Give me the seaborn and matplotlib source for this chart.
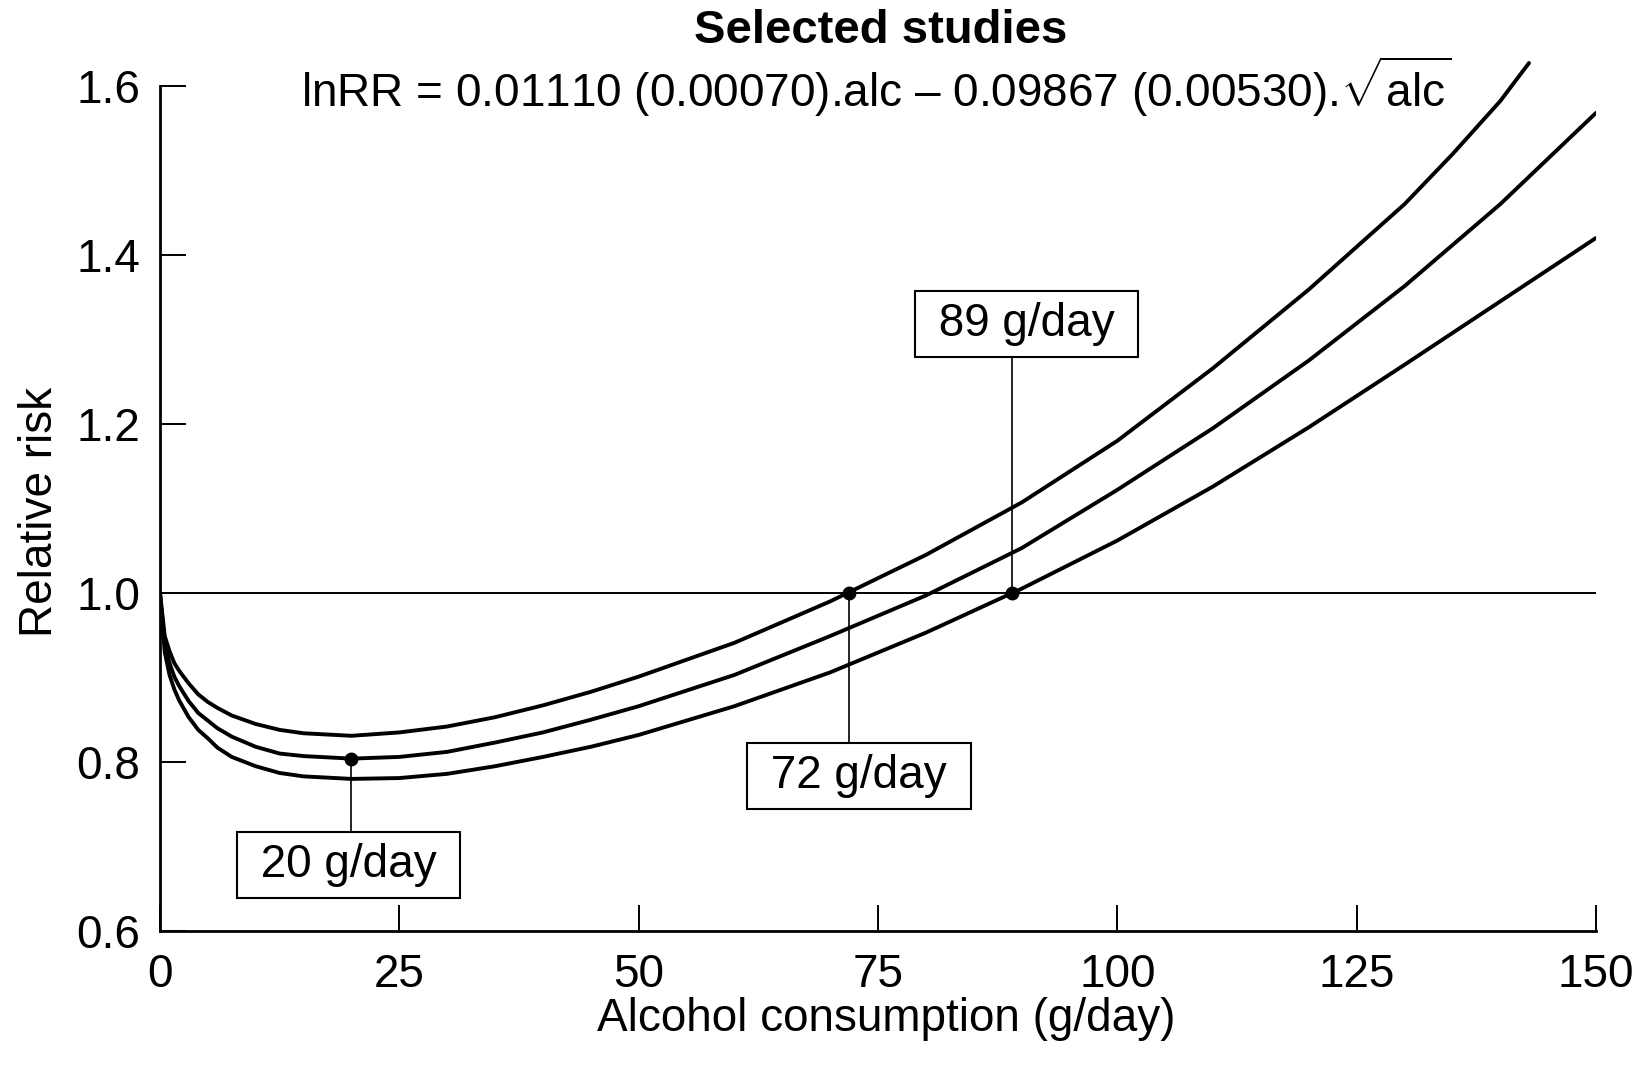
import matplotlib
matplotlib.use('Agg')
import matplotlib.pyplot as plt
import seaborn as sns


alc = [0, 0.5, 1, 1.5, 2, 3, 4, 5, 6, 7.5, 10, 12.5, 15, 20, 25, 30, 35, 40,
       45, 50, 60, 70, 80, 90, 100, 110, 120, 130, 140, 150]

# Relative risk: fitted curve and the lower confidence limit
rr_mid = [1.0, 0.94, 0.917, 0.901, 0.89, 0.872, 0.858, 0.849, 0.840, 0.830,
          0.818, 0.810, 0.807, 0.804, 0.806, 0.812, 0.823, 0.835, 0.850,
          0.866, 0.903, 0.949, 0.997, 1.053, 1.122, 1.195, 1.275, 1.363,
          1.46, 1.568]
rr_lower = [1.0, 0.93, 0.903, 0.886, 0.873, 0.853, 0.838, 0.828, 0.817,
            0.806, 0.795, 0.787, 0.783, 0.780, 0.781, 0.786, 0.795, 0.806,
            0.818, 0.832, 0.866, 0.906, 0.953, 1.005, 1.062, 1.126, 1.196,
            1.27, 1.345, 1.42]

# upper limit leaves the top of the plot at about 143 g/day
alc_upper = [0, 0.5, 1, 1.5, 2, 3, 4, 5, 6, 7.5, 10, 12.5, 15, 20, 25, 30,
             35, 40, 45, 50, 60, 70, 80, 90, 100, 110, 120, 130, 135, 140, 143]
rr_upper = [1.0, 0.949, 0.931, 0.917, 0.908, 0.893, 0.880, 0.871, 0.864,
            0.855, 0.845, 0.838, 0.834, 0.831, 0.835, 0.842, 0.853, 0.867,
            0.883, 0.901, 0.941, 0.990, 1.045, 1.107, 1.180, 1.266, 1.359,
            1.460, 1.519, 1.582, 1.627]

# marked intersections and their labels
mark_x = [20, 72, 89]
mark_y = [0.804, 1.0, 1.0]
mark_label_x = [19.7, 73, 90.5]
mark_label_y = [0.678, 0.783, 1.318]
mark_labels = ['20 g/day', '72 g/day', '89 g/day']

x_ticks = [0, 25, 50, 75, 100, 125, 150]
y_ticks = [0.6, 0.8, 1.0, 1.2, 1.4, 1.6]

sns.set_theme(style='white')
plt.rcParams['font.family'] = ['Liberation Sans', 'DejaVu Sans']
plt.rcParams['mathtext.fontset'] = 'custom'
plt.rcParams['mathtext.rm'] = 'Liberation Sans'
plt.rcParams['mathtext.it'] = 'Liberation Sans'
plt.rcParams['text.color'] = 'black'
plt.rcParams['axes.labelcolor'] = 'black'

fig = plt.figure(figsize=(16.44, 10.66), dpi=100)
ax = fig.add_axes([0.0973, 0.1266, 0.8735, 0.8246])

# reference line at RR = 1
ax.hlines(1.0, 0, 150, color='black', lw=1.4, zorder=2)

sns.lineplot(x=alc_upper, y=rr_upper, ax=ax, color='black', lw=2.8, zorder=3)
sns.lineplot(x=alc, y=rr_mid, ax=ax, color='black', lw=2.8, zorder=3)
sns.lineplot(x=alc, y=rr_lower, ax=ax, color='black', lw=2.8, zorder=3)

# dots, leader lines and boxed labels
for x, y, lx, ly, lab in zip(mark_x, mark_y, mark_label_x, mark_label_y,
                             mark_labels):
    ax.plot([x, x], [y, ly], color='black', lw=1.2, zorder=2)
    ax.plot(x, y, 'o', color='black', ms=9, zorder=4)
    ax.text(lx, ly, ' ' + lab + ' ', ha='center', va='center', fontsize=33,
            color='black', zorder=5,
            bbox=dict(boxstyle='square,pad=0.24', fc='white', ec='black', lw=1.5))

ax.set_xlim(0, 150)
ax.set_ylim(0.6, 1.64)
ax.set_xticks(x_ticks)
ax.set_yticks(y_ticks)
ax.set_yticklabels([f'{v:.1f}' for v in y_ticks])
ax.tick_params(direction='in', length=19, width=1.4, labelsize=33,
               colors='black', bottom=True, left=True)
ax.tick_params(axis='x', pad=16)
ax.tick_params(axis='y', pad=14)

sns.despine(ax=ax)
for side in ['left', 'bottom']:
    ax.spines[side].set_linewidth(2.0)
    ax.spines[side].set_color('black')
ax.spines['left'].set_bounds(0.6, 1.6)
ax.spines['bottom'].set_bounds(0, 150)

ax.set_xlabel('Alcohol consumption (g/day)', fontsize=33)
ax.set_ylabel('Relative risk', fontsize=33)
ax.xaxis.set_label_coords(0.5056, -0.075)
ax.yaxis.set_label_coords(-0.068, 0.477)

fig.text(0.536, 0.971, 'Selected studies', ha='center', va='center',
         fontsize=34, fontweight='bold')
fig.text(0.533, 0.919,
         r'lnRR = 0.01110 (0.00070).alc – 0.09867 (0.00530).$\sqrt{\mathrm{alc}}$',
         ha='center', va='center', fontsize=33)

fig.savefig('out.png', dpi=100, facecolor='white')
